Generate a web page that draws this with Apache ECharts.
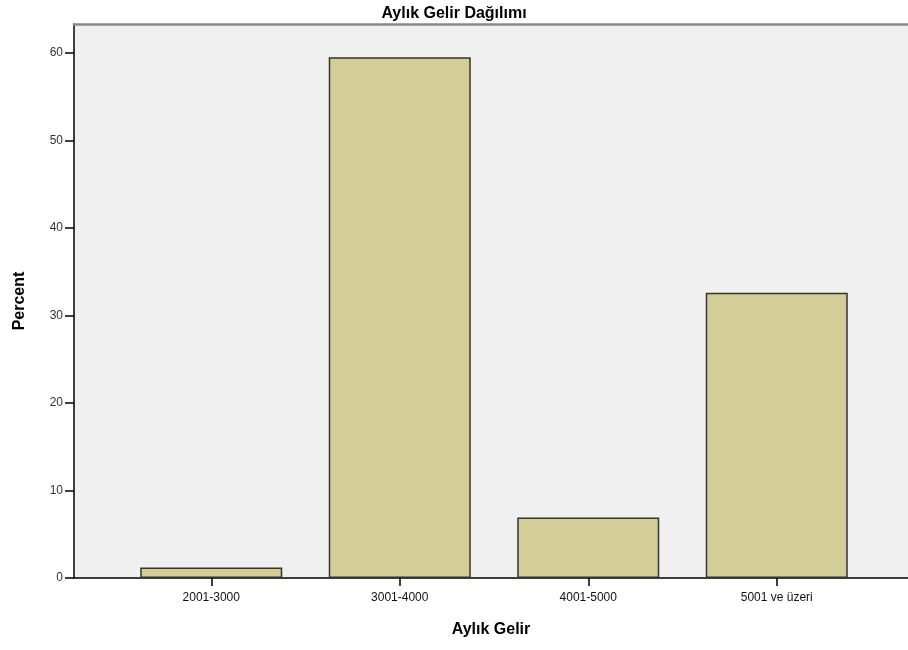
<!DOCTYPE html>
<html>
<head>
<meta charset="utf-8">
<title>Aylık Gelir Dağılımı</title>
<script src="https://cdn.jsdelivr.net/npm/echarts@6/dist/echarts.min.js"></script>
<style>
  html, body { margin: 0; padding: 0; background: #fff; }
  #chart { width: 908px; height: 650px; }
</style>
</head>
<body>
<div id="chart"></div>
<script>
// data
var categories = ['2001-3000', '3001-4000', '4001-5000', '5001 ve üzeri'];
var percentValues = [1.2, 59.5, 6.9, 32.6];
var yTicks = [0, 10, 20, 30, 40, 50, 60];
var yMax = 63.3;

var font = '"Liberation Sans", Arial, sans-serif';

var chart = echarts.init(document.getElementById('chart'));

chart.setOption({
    animation: false,
    title: {
        text: 'Aylık Gelir Dağılımı',
        left: 'center',
        top: 1,
        textStyle: { fontFamily: font, fontSize: 16, fontWeight: 'bold', color: '#000' }
    },
    grid: [
        // frame: grey background, y axis, full-width base line
        { left: 74, right: 0, top: 24, bottom: 72, show: true, backgroundColor: '#f0f0f0', borderWidth: 0 },
        // bars sit in a narrower band like SPSS does
        { left: 117, right: 37, top: 24, bottom: 72 }
    ],
    xAxis: [
        {
            gridIndex: 0, type: 'value', position: 'bottom', min: 0, max: 1,
            axisLine: { show: true, lineStyle: { color: '#000', width: 1.5 } },
            axisTick: { show: false }, axisLabel: { show: false }, splitLine: { show: false },
            name: 'Aylık Gelir', nameLocation: 'middle', nameGap: 44,
            nameTextStyle: { fontFamily: font, fontSize: 16, fontWeight: 'bold', color: '#000' }
        },
        {
            gridIndex: 0, type: 'value', position: 'top', min: 0, max: 1,
            axisLine: { show: true, lineStyle: { color: '#8a8a8a', width: 2.5 } },
            axisTick: { show: false }, axisLabel: { show: false }, splitLine: { show: false }
        },
        {
            gridIndex: 1, type: 'category', data: categories,
            axisLine: { show: false },
            axisTick: { show: true, alignWithLabel: true, length: 8, lineStyle: { color: '#000', width: 1.5 } },
            axisLabel: { fontFamily: font, fontSize: 12, color: '#111', margin: 14 }
        }
    ],
    yAxis: [
        {
            gridIndex: 0, type: 'value', min: 0, max: yMax,
            axisLine: { show: true, lineStyle: { color: '#000', width: 1.5 } },
            axisTick: { show: true, length: 9, customValues: yTicks, lineStyle: { color: '#000', width: 1.5 } },
            axisLabel: { fontFamily: font, fontSize: 12, color: '#333', margin: 11, customValues: yTicks },
            splitLine: { show: false },
            name: 'Percent', nameLocation: 'middle', nameGap: 46, nameRotate: 90,
            nameTextStyle: { fontFamily: font, fontSize: 16, fontWeight: 'bold', color: '#000' }
        },
        {
            gridIndex: 1, type: 'value', min: 0, max: yMax, show: false
        }
    ],
    series: [{
        type: 'bar',
        xAxisIndex: 2,
        yAxisIndex: 1,
        data: percentValues,
        barWidth: 142,
        itemStyle: { color: '#d3ce97', borderColor: '#333', borderWidth: 1.5 }
    }]
});
</script>
</body>
</html>
